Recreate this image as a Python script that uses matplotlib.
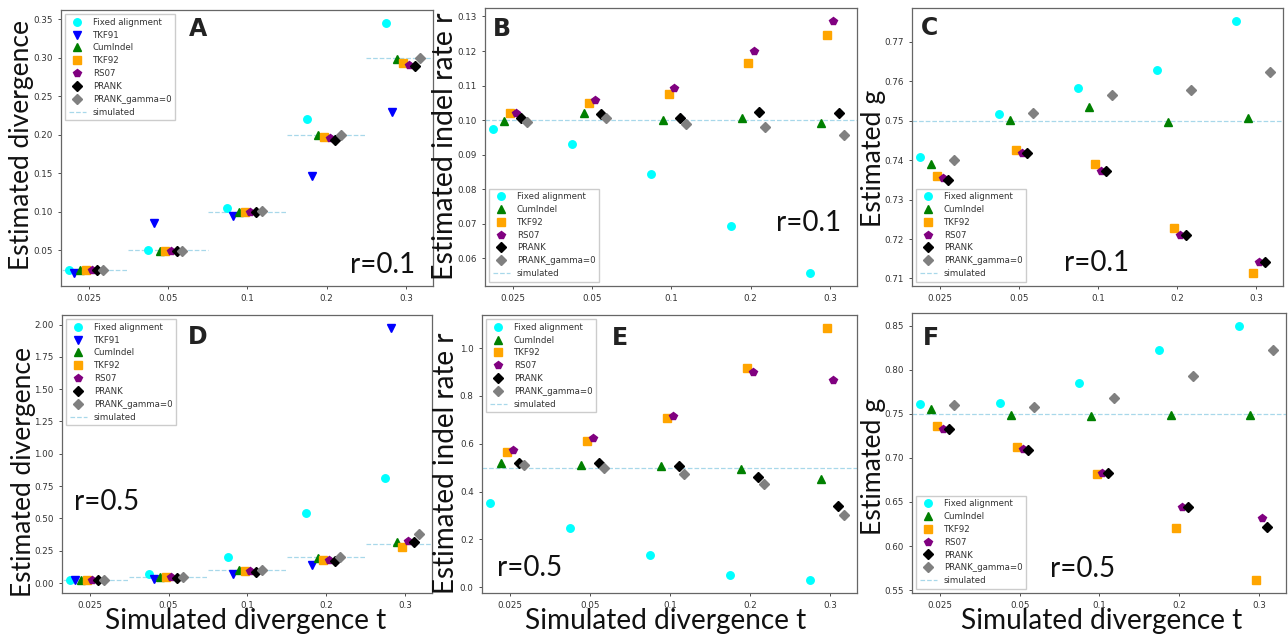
import matplotlib
matplotlib.use("Agg")
import matplotlib.pyplot as plt
import numpy as np

# x categories (simulated divergence t)
t_labels = ["0.025", "0.05", "0.1", "0.2", "0.3"]
t_values = [0.025, 0.05, 0.1, 0.2, 0.3]

methods = ["Fixed alignment", "TKF91", "CumIndel", "TKF92", "RS07", "PRANK", "PRANK_gamma=0"]
colors = ["cyan", "blue", "green", "orange", "purple", "black", "gray"]
markers = ["o", "v", "^", "s", "p", "D", "D"]

# Panel A: estimated divergence, r=0.1
a_fixed = [0.025, 0.050, 0.105, 0.221, 0.346]
a_tkf91 = [0.020, 0.085, 0.094, 0.146, 0.230]
a_cumindel = [0.0245, 0.049, 0.100, 0.200, 0.299]
a_tkf92 = [0.025, 0.049, 0.100, 0.197, 0.293]
a_rs07 = [0.025, 0.049, 0.100, 0.196, 0.291]
a_prank = [0.0245, 0.049, 0.0996, 0.194, 0.289]
a_prank_g0 = [0.025, 0.0495, 0.1005, 0.2005, 0.3005]

# Panel B: estimated indel rate, r=0.1
b_fixed = [0.0975, 0.0931, 0.0844, 0.0694, 0.0557]
b_cumindel = [0.0998, 0.1020, 0.1000, 0.1005, 0.0991]
b_tkf92 = [0.1020, 0.1051, 0.1076, 0.1166, 0.1246]
b_rs07 = [0.1020, 0.1059, 0.1093, 0.1201, 0.1288]
b_prank = [0.1007, 0.1017, 0.1007, 0.1024, 0.1021]
b_prank_g0 = [0.0996, 0.1007, 0.0988, 0.0979, 0.0958]

# Panel C: estimated g, r=0.1
c_fixed = [0.7407, 0.7518, 0.7584, 0.7629, 0.7754]
c_cumindel = [0.7390, 0.7501, 0.7535, 0.7497, 0.7508]
c_tkf92 = [0.7361, 0.7425, 0.7390, 0.7227, 0.7113]
c_rs07 = [0.7356, 0.7418, 0.7372, 0.7210, 0.7142]
c_prank = [0.7349, 0.7418, 0.7373, 0.7211, 0.7142]
c_prank_g0 = [0.7400, 0.7520, 0.7566, 0.7578, 0.7624]

# Panel D: estimated divergence, r=0.5
d_fixed = [0.026, 0.073, 0.200, 0.545, 0.809]
d_tkf91 = [0.026, 0.034, 0.073, 0.137, 1.976]
d_cumindel = [0.021, 0.047, 0.099, 0.197, 0.316]
d_tkf92 = [0.026, 0.047, 0.096, 0.180, 0.280]
d_rs07 = [0.026, 0.047, 0.096, 0.180, 0.324]
d_prank = [0.021, 0.041, 0.083, 0.174, 0.316]
d_prank_g0 = [0.026, 0.047, 0.104, 0.202, 0.381]

# Panel E: estimated indel rate, r=0.5
e_fixed = [0.353, 0.247, 0.135, 0.050, 0.028]
e_cumindel = [0.518, 0.511, 0.507, 0.496, 0.454]
e_tkf92 = [0.565, 0.610, 0.706, 0.919, 1.086]
e_rs07 = [0.574, 0.622, 0.718, 0.900, 0.865]
e_prank = [0.521, 0.519, 0.507, 0.4625, 0.340]
e_prank_g0 = [0.511, 0.497, 0.475, 0.430, 0.301]

# Panel F: estimated g, r=0.5
f_fixed = [0.7614, 0.7625, 0.7853, 0.8225, 0.8502]
f_cumindel = [0.7553, 0.7485, 0.7481, 0.7492, 0.7492]
f_tkf92 = [0.7360, 0.7124, 0.6817, 0.6206, 0.5611]
f_rs07 = [0.7333, 0.7102, 0.6832, 0.6442, 0.6316]
f_prank = [0.7333, 0.7094, 0.6832, 0.6442, 0.6218]
f_prank_g0 = [0.7602, 0.7576, 0.7686, 0.7929, 0.8221]

W, H = 1288, 636
LABEL_FONT = ["Lato", "DejaVu Sans"]


def px_axes(fig, x0, y0, x1, y1):
    return fig.add_axes([x0 / W, 1 - y1 / H, (x1 - x0) / W, (y1 - y0) / H])


def draw_panel(ax, series, sim, per_category, legend_loc):
    x = np.arange(len(t_labels))
    for k, vals in series.items():
        off = (k - 3.5) * 0.072
        ax.plot(x + off, vals, linestyle="none", marker=markers[k], color=colors[k],
                markersize=5.4 if markers[k] != "D" else 5.0, label=methods[k])
    if per_category:
        for i, t in enumerate(sim):
            ax.plot([i - 0.5, i + 0.5], [t, t], color="#a8d8ea", linestyle="--",
                    linewidth=0.9, label="simulated" if i == 0 else None, zorder=0)
    else:
        ax.axhline(sim, color="#a8d8ea", linestyle="--", linewidth=0.9, label="simulated", zorder=0)
    ax.set_xticks(x)
    ax.set_xticklabels(t_labels)
    ax.set_xlim(-0.35, 4.34)
    ax.tick_params(labelsize=6.3, colors="#333333", length=2.5, width=0.6)
    for sp in ax.spines.values():
        sp.set_color("#666666")
        sp.set_linewidth(0.9)
    leg = ax.legend(loc=legend_loc, fontsize=6.2, handlelength=2.0, borderpad=0.4,
                    labelspacing=0.45, framealpha=1.0, edgecolor="#cccccc", fancybox=False)
    for txt in leg.get_texts():
        txt.set_color("#333333")


fig = plt.figure(figsize=(W / 100, H / 100), dpi=100)

ax_a = px_axes(fig, 61, 10, 433, 286)
draw_panel(ax_a, {0: a_fixed, 1: a_tkf91, 2: a_cumindel, 3: a_tkf92, 4: a_rs07, 5: a_prank, 6: a_prank_g0},
           t_values, True, "upper left")
ax_b = px_axes(fig, 485, 8, 857, 286)
draw_panel(ax_b, {0: b_fixed, 2: b_cumindel, 3: b_tkf92, 4: b_rs07, 5: b_prank, 6: b_prank_g0},
           0.1, False, "lower left")
ax_c = px_axes(fig, 912, 8, 1283, 286)
draw_panel(ax_c, {0: c_fixed, 2: c_cumindel, 3: c_tkf92, 4: c_rs07, 5: c_prank, 6: c_prank_g0},
           0.75, False, "lower left")
ax_d = px_axes(fig, 62, 315, 432, 593)
draw_panel(ax_d, {0: d_fixed, 1: d_tkf91, 2: d_cumindel, 3: d_tkf92, 4: d_rs07, 5: d_prank, 6: d_prank_g0},
           t_values, True, "upper left")
ax_e = px_axes(fig, 482, 315, 857, 593)
draw_panel(ax_e, {0: e_fixed, 2: e_cumindel, 3: e_tkf92, 4: e_rs07, 5: e_prank, 6: e_prank_g0},
           0.5, False, "upper left")
ax_f = px_axes(fig, 912, 313, 1286, 593)
draw_panel(ax_f, {0: f_fixed, 2: f_cumindel, 3: f_tkf92, 4: f_rs07, 5: f_prank, 6: f_prank_g0},
           0.75, False, "lower left")

ax_a.set_yticks([0.05, 0.10, 0.15, 0.20, 0.25, 0.30, 0.35])
ax_b.set_yticks([0.06, 0.07, 0.08, 0.09, 0.10, 0.11, 0.12, 0.13])
ax_d.set_yticks([0.0, 0.25, 0.5, 0.75, 1.0, 1.25, 1.5, 1.75, 2.0])
ax_e.set_yticks([0.0, 0.2, 0.4, 0.6, 0.8, 1.0])


def ftext(x, y, s, **kw):
    fig.text(x / W, 1 - y / H, s, **kw)


# panel letters
for x, y, s in [(198, 29, "A"), (502, 29, "B"), (929, 28, "C"),
                (198, 337, "D"), (620, 338, "E"), (931, 338, "F")]:
    ftext(x, y, s, fontsize=17, fontweight="bold", ha="center", va="center", color="#222222")

# r annotations
for x, y, s in [(383, 265, "r=0.1"), (809, 223, "r=0.1"), (1097, 263, "r=0.1"),
                (107, 502, "r=0.5"), (530, 568, "r=0.5"), (1083, 569, "r=0.5")]:
    ftext(x, y, s, fontsize=20, ha="center", va="center", family=LABEL_FONT, color="#111111")

# y labels
for x, y, s, size in [(22, 145, "Estimated divergence", 19),
                      (445, 146, "Estimated indel rate r", 20.5),
                      (874, 158, "Estimated g", 19.2),
                      (24, 472, "Estimated divergence", 19),
                      (446, 463, "Estimated indel rate r", 20.0),
                      (873, 466, "Estimated g", 19.2)]:
    ftext(x, y, s, fontsize=size, rotation=90, ha="center", va="center", family=LABEL_FONT,
          color="#111111")

# x labels
for x in [246, 666, 1102]:
    ftext(x, 629, "Simulated divergence t", fontsize=20.2, ha="center", va="baseline",
          family=LABEL_FONT, color="#111111")

fig.savefig("out.png", dpi=100)
